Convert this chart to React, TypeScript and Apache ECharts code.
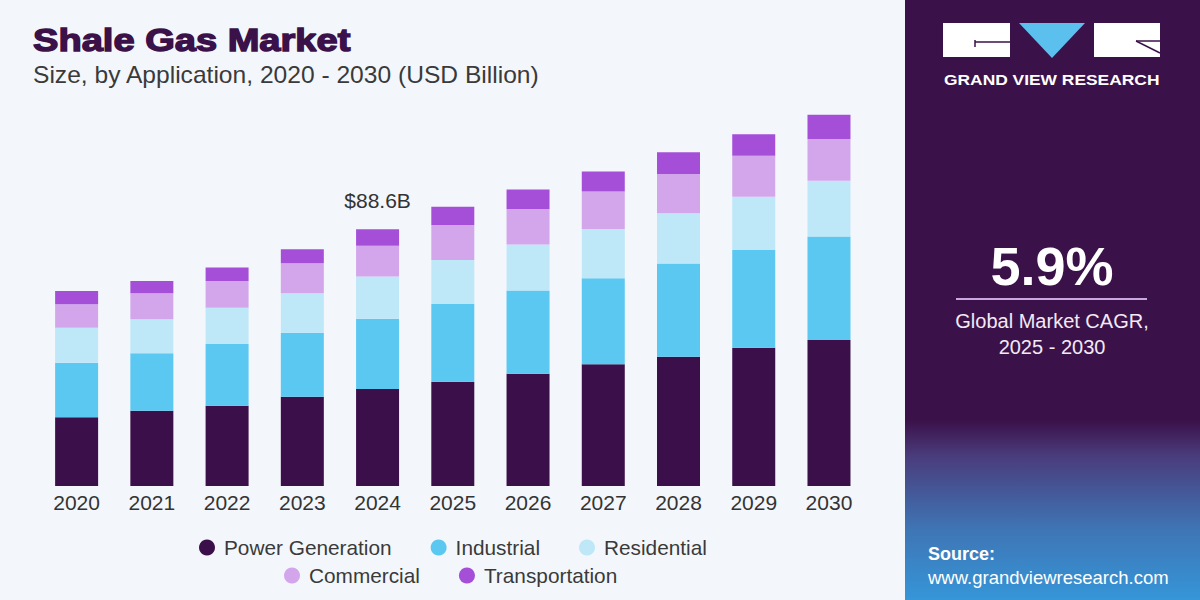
import React, { useEffect, useRef } from "react";
import * as echarts from "echarts";

const years = ["2020", "2021", "2022", "2023", "2024", "2025", "2026", "2027", "2028", "2029", "2030"];
const powerGeneration = [23.7, 26.0, 27.7, 30.8, 33.5, 36.0, 38.7, 42.0, 44.6, 47.7, 50.4];
const industrial = [18.8, 19.8, 21.3, 22.1, 24.2, 26.8, 28.8, 29.7, 32.2, 33.7, 35.7];
const residential = [12.1, 11.7, 12.5, 13.6, 14.6, 15.2, 15.8, 17.0, 17.3, 18.4, 19.2];
const commercial = [8.1, 9.0, 9.2, 10.4, 10.6, 12.1, 12.3, 12.9, 13.6, 14.2, 14.4];
const transportation = [4.6, 4.2, 4.7, 4.8, 5.7, 6.3, 6.7, 6.9, 7.5, 7.4, 8.4];
const seriesNames = ["Power Generation", "Industrial", "Residential", "Commercial", "Transportation"];
const seriesColors = ["#3b0f4a", "#5bc8f2", "#bee7f8", "#d3a6ec", "#a54fd8"];
const highlightYear = "2024";
const highlightLabel = "$88.6B";
const cagrValue = "5.9%";

const FONT = "'Liberation Sans', Arial, sans-serif";

export default function App() {
  const ref = useRef<HTMLDivElement>(null);
  useEffect(() => {
    document.body.style.margin = "0";
    const chart = echarts.init(ref.current!, null, { renderer: "svg" });
    const seriesData = [powerGeneration, industrial, residential, commercial, transportation];
    const hiIdx = years.indexOf(highlightYear);
    const series = seriesNames.map((name, i) => ({
      name,
      type: "bar",
      stack: "total",
      barWidth: 43,
      itemStyle: { color: seriesColors[i] },
      data: seriesData[i].map((v, j) =>
        i === seriesNames.length - 1 && j === hiIdx
          ? {
              value: v,
              label: {
                show: true,
                position: "top",
                distance: 18,
                formatter: highlightLabel,
                fontSize: 21,
                fontFamily: FONT,
                color: "#333333",
              },
            }
          : v
      ),
    }));

    const legendCommon = {
      icon: "circle",
      itemWidth: 16,
      itemHeight: 16,
      itemGap: 39,
      padding: 0,
      textStyle: { fontSize: 20.8, color: "#3a3a3a", fontFamily: FONT, padding: [0, 0, 0, 4] },
    };

    chart.setOption({
      animation: false,
      backgroundColor: "#f3f7fb",
      grid: { left: 39, right: 333.4, top: 100, bottom: 114 },
      xAxis: {
        type: "category",
        data: years,
        axisLine: { show: false },
        axisTick: { show: false },
        axisLabel: { fontSize: 21, color: "#333333", fontFamily: FONT, margin: 6 },
      },
      yAxis: {
        type: "value",
        min: 0,
        max: 133.2,
        show: false,
        splitLine: { show: false },
      },
      legend: [
        { ...legendCommon, data: seriesNames.slice(0, 3), left: 199, top: 537 },
        { ...legendCommon, data: seriesNames.slice(3), left: 284, top: 565 },
      ],
      series,
      graphic: [
        {
          type: "text",
          x: 33,
          y: 40,
          scaleX: 1.19,
          style: {
            text: "Shale Gas Market",
            fill: "#3b1149",
            stroke: "#3b1149",
            lineWidth: 1.4,
            fontSize: 32,
            fontWeight: "bold",
            fontFamily: FONT,
            align: "left",
            verticalAlign: "middle",
          },
        },
        {
          type: "text",
          x: 33,
          y: 75,
          scaleX: 1.07,
          style: {
            text: "Size, by Application, 2020 - 2030 (USD Billion)",
            fill: "#3a3a3a",
            fontSize: 23,
            fontFamily: FONT,
            align: "left",
            verticalAlign: "middle",
          },
        },
        // right panel
        {
          type: "rect",
          shape: { x: 905, y: 0, width: 295, height: 600 },
          style: {
            fill: new echarts.graphic.LinearGradient(0, 0, 0, 1, [
              { offset: 0, color: "#3b1149" },
              { offset: 0.7, color: "#3b1149" },
              { offset: 0.76, color: "#4a3c7c" },
              { offset: 0.88, color: "#3f74b4" },
              { offset: 1, color: "#3596d8" },
            ]),
          },
        },
        // logo
        { type: "rect", shape: { x: 943, y: 23, width: 67, height: 34 }, style: { fill: "#ffffff" } },
        { type: "line", shape: { x1: 975, y1: 42, x2: 1010, y2: 42 }, style: { stroke: "#3b1149", lineWidth: 1.5 } },
        { type: "line", shape: { x1: 975, y1: 40, x2: 975, y2: 47 }, style: { stroke: "#3b1149", lineWidth: 1.5 } },
        {
          type: "polygon",
          shape: { points: [[1019, 23], [1085, 23], [1052, 58]] },
          style: { fill: "#5bc0ee" },
        },
        { type: "rect", shape: { x: 1094, y: 23, width: 66, height: 34 }, style: { fill: "#ffffff" } },
        { type: "line", shape: { x1: 1136, y1: 41, x2: 1160, y2: 41 }, style: { stroke: "#3b1149", lineWidth: 1.5 } },
        { type: "line", shape: { x1: 1136, y1: 41, x2: 1160, y2: 53 }, style: { stroke: "#3b1149", lineWidth: 1.5 } },
        {
          type: "text",
          x: 944,
          y: 79,
          scaleX: 1.16,
          style: {
            text: "GRAND VIEW RESEARCH",
            fill: "#ffffff",
            fontSize: 15,
            fontWeight: "bold",
            fontFamily: FONT,
            align: "left",
            verticalAlign: "middle",
          },
        },
        {
          type: "text",
          x: 1052,
          y: 266,
          style: {
            text: cagrValue,
            fill: "#ffffff",
            fontSize: 54,
            fontWeight: "bold",
            fontFamily: FONT,
            align: "center",
            verticalAlign: "middle",
          },
        },
        { type: "line", shape: { x1: 956, y1: 299, x2: 1147, y2: 299 }, style: { stroke: "#c9a8e2", lineWidth: 2 } },
        {
          type: "text",
          x: 1052,
          y: 321,
          style: {
            text: "Global Market CAGR,",
            fill: "#f2eaf6",
            fontSize: 20,
            fontFamily: FONT,
            align: "center",
            verticalAlign: "middle",
          },
        },
        {
          type: "text",
          x: 1052,
          y: 347,
          style: {
            text: "2025 - 2030",
            fill: "#f2eaf6",
            fontSize: 20,
            fontFamily: FONT,
            align: "center",
            verticalAlign: "middle",
          },
        },
        {
          type: "text",
          x: 928,
          y: 554,
          style: {
            text: "Source:",
            fill: "#ffffff",
            fontSize: 18,
            fontWeight: "bold",
            fontFamily: FONT,
            align: "left",
            verticalAlign: "middle",
          },
        },
        {
          type: "text",
          x: 928,
          y: 577,
          style: {
            text: "www.grandviewresearch.com",
            fill: "#ffffff",
            fontSize: 18.5,
            fontFamily: FONT,
            align: "left",
            verticalAlign: "middle",
          },
        },
      ],
    });
    return () => chart.dispose();
  }, []);
  return <div ref={ref} style={{ position: "fixed", left: 0, top: 0, width: 1200, height: 600 }} />;
}
